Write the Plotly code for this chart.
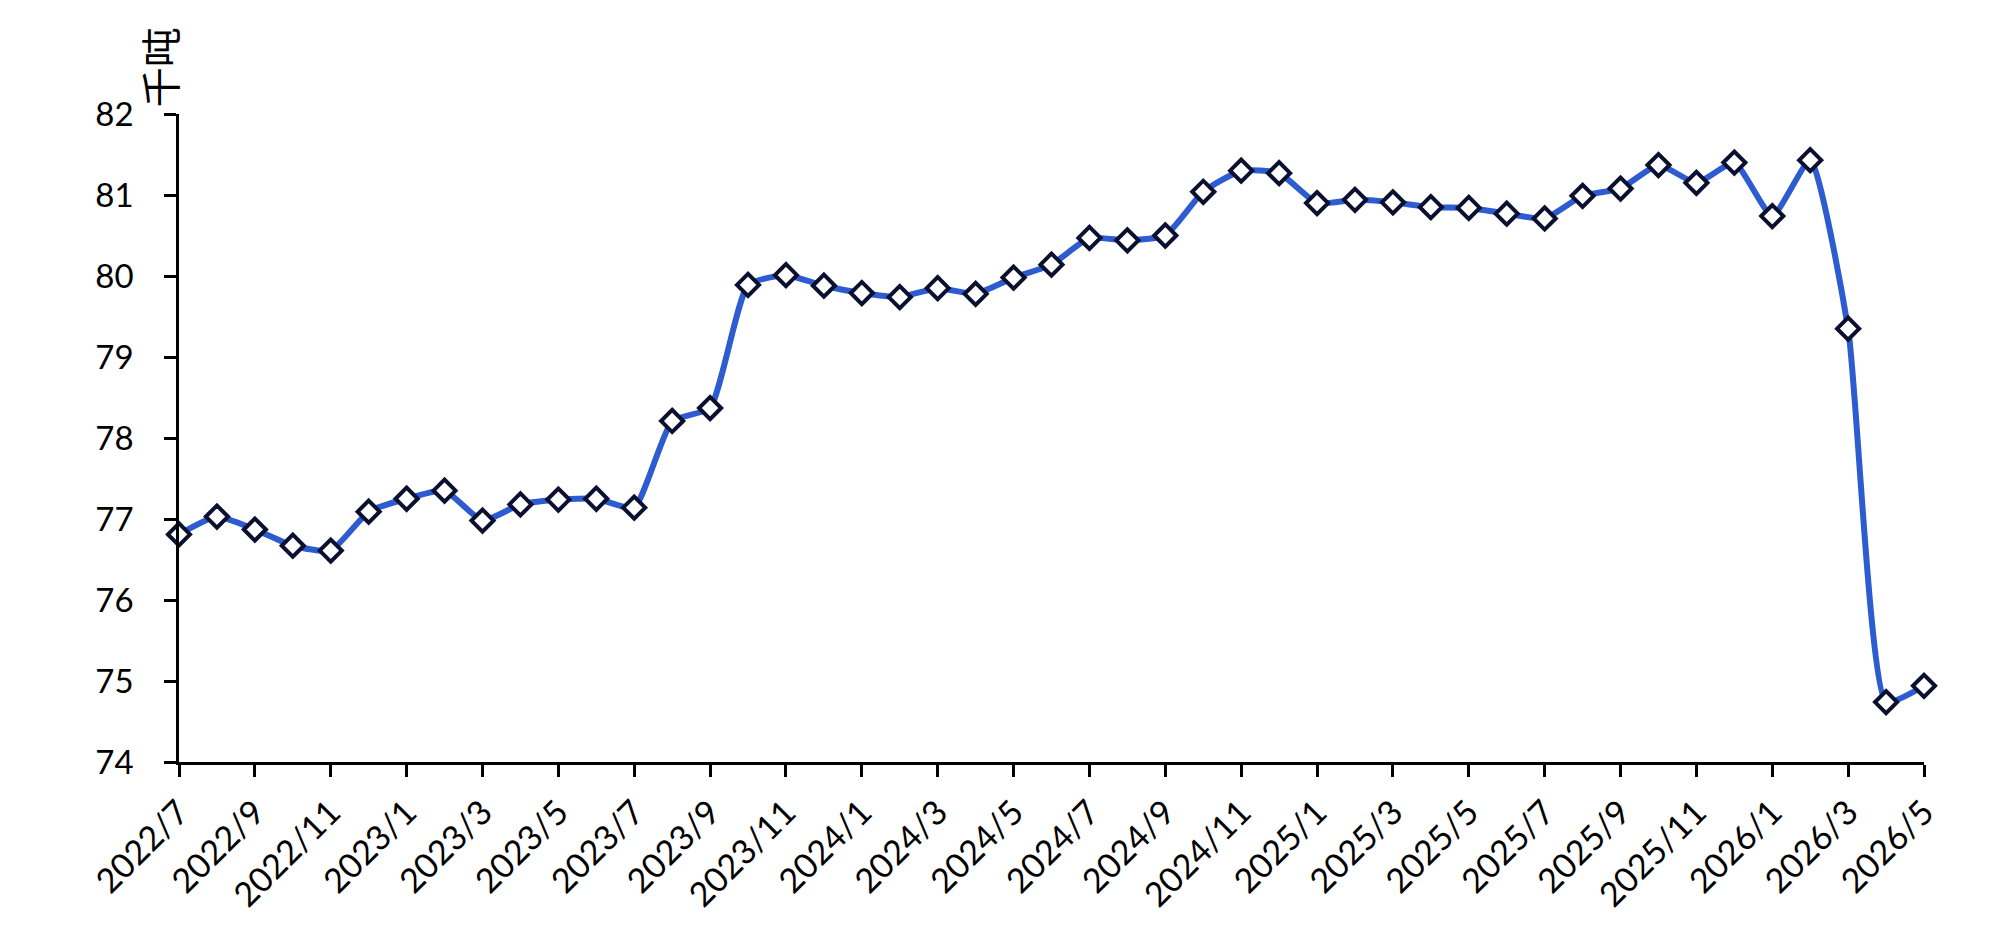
import plotly.graph_objects as go

# monthly output, thousand tonnes
months = [
    "2022/7", "2022/8", "2022/9", "2022/10", "2022/11", "2022/12",
    "2023/1", "2023/2", "2023/3", "2023/4", "2023/5", "2023/6",
    "2023/7", "2023/8", "2023/9", "2023/10", "2023/11", "2023/12",
    "2024/1", "2024/2", "2024/3", "2024/4", "2024/5", "2024/6",
    "2024/7", "2024/8", "2024/9", "2024/10", "2024/11", "2024/12",
    "2025/1", "2025/2", "2025/3", "2025/4", "2025/5", "2025/6",
    "2025/7", "2025/8", "2025/9", "2025/10", "2025/11", "2025/12",
    "2026/1", "2026/2", "2026/3", "2026/4", "2026/5",
]
values = [
    76.81, 77.03, 76.87, 76.67, 76.61, 77.09,
    77.25, 77.35, 76.98, 77.18, 77.24, 77.25,
    77.14, 78.21, 78.37, 79.89, 80.01, 79.88,
    79.79, 79.74, 79.85, 79.78, 79.98, 80.14,
    80.47, 80.44, 80.50, 81.04, 81.30, 81.27,
    80.90, 80.94, 80.91, 80.85, 80.84, 80.77,
    80.71, 80.99, 81.08, 81.37, 81.15, 81.40,
    80.74, 81.43, 79.35, 74.74, 74.94,
]
tick_labels = months[::2]
y_ticks = [74, 75, 76, 77, 78, 79, 80, 81, 82]
unit_label = "千吨"

FONT = "Lato, 'Noto Sans CJK SC', sans-serif"

fig = go.Figure()

fig.add_trace(go.Scatter(
    x=months,
    y=values,
    mode="lines+markers",
    line=dict(color="#2d5cd0", width=6, shape="spline", smoothing=0.5),
    marker=dict(symbol="diamond", size=17, color="white",
                line=dict(color="#0b1030", width=4)),
    cliponaxis=False,
    showlegend=False,
))

fig.update_layout(
    width=2004,
    height=928,
    margin=dict(l=171, r=88, t=106, b=174),
    paper_bgcolor="white",
    plot_bgcolor="white",
    font=dict(family=FONT, size=33, color="black"),
    xaxis=dict(
        type="category",
        range=[0, len(months) - 1],
        tickmode="array",
        tickvals=tick_labels,
        ticktext=tick_labels,
        tickangle=-45,
        tickfont=dict(size=34),
        ticks="outside",
        ticklen=12,
        tickwidth=2.5,
        tickcolor="black",
        showline=True,
        linecolor="black",
        linewidth=2.5,
        showgrid=False,
        zeroline=False,
        automargin=False,
        ticklabelstandoff=2,
    ),
    yaxis=dict(
        range=[74, 82],
        tickmode="array",
        tickvals=y_ticks,
        ticks="outside",
        ticklen=12,
        tickwidth=2.5,
        tickcolor="black",
        showline=True,
        linecolor="black",
        linewidth=2.5,
        showgrid=False,
        zeroline=False,
        automargin=False,
        ticklabelstandoff=24,
    ),
)

fig.add_annotation(
    text=unit_label,
    xref="paper", yref="paper",
    x=-0.011, y=1.072,
    xanchor="center", yanchor="middle",
    textangle=-90,
    showarrow=False,
    font=dict(family="'Noto Sans CJK SC', sans-serif", size=40, color="black"),
)

fig.write_html("out.html")
